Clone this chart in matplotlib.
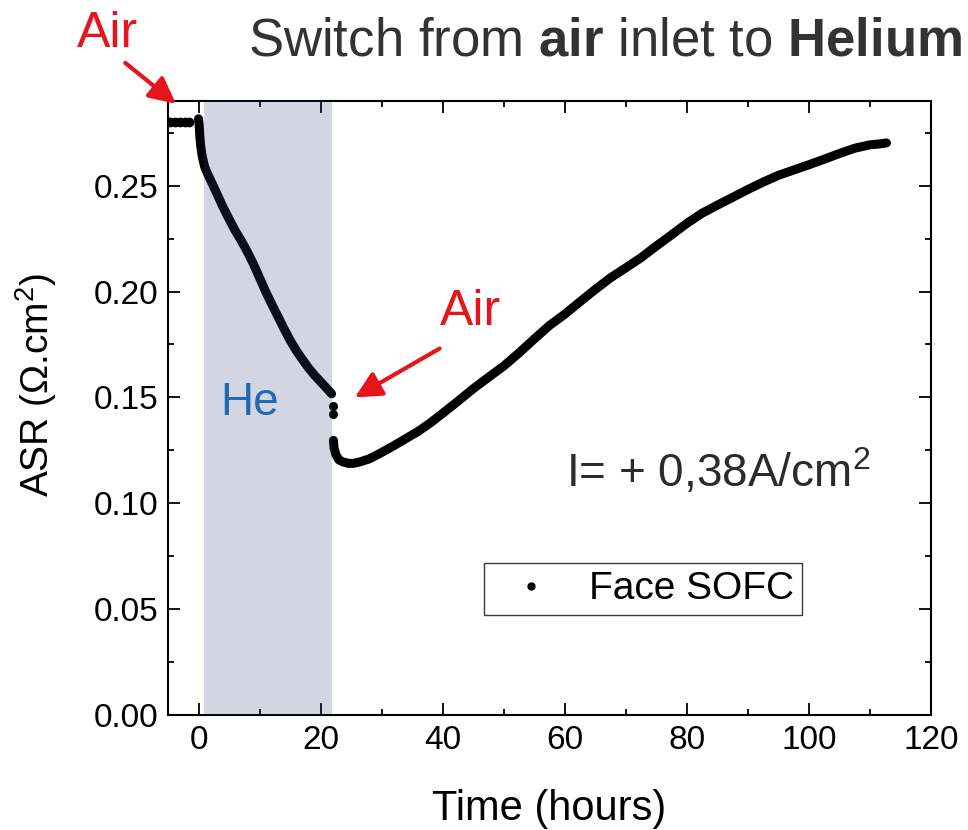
import matplotlib
matplotlib.use('Agg')
import matplotlib.pyplot as plt
from matplotlib.lines import Line2D
from matplotlib.ticker import MultipleLocator, FormatStrFormatter

plt.rcParams['font.family'] = ['Liberation Sans', 'DejaVu Sans']
plt.rcParams['mathtext.fontset'] = 'custom'
plt.rcParams['mathtext.rm'] = 'Liberation Sans'
plt.rcParams['mathtext.it'] = 'Liberation Sans:italic'
plt.rcParams['mathtext.bf'] = 'Liberation Sans:bold'
plt.rcParams['mathtext.default'] = 'regular'

# ---- data ----
pre_time = [-4.7, -3.9, -3.0, -2.2, -1.6]
pre_asr = [0.2800, 0.2800, 0.2801, 0.2802, 0.2802]

he_time = [0.0, 0.1, 0.2, 0.35, 0.6, 1.0, 1.5, 2.0, 3.0, 4.0, 5.0, 6.0, 7.0,
           8.0, 9.0, 10.0, 11.0, 12.0, 13.0, 14.0, 15.0, 16.0, 17.0, 18.0,
           19.0, 20.0, 21.0, 21.8]
he_asr = [0.2816, 0.2790, 0.2740, 0.2690, 0.2640, 0.2590, 0.2555, 0.2525,
          0.2463, 0.2400, 0.2343, 0.2288, 0.2240, 0.2188, 0.2130, 0.2065,
          0.2000, 0.1940, 0.1883, 0.1825, 0.1770, 0.1722, 0.1680, 0.1640,
          0.1605, 0.1574, 0.1543, 0.1517]

step_time = [22.0, 22.0]
step_asr = [0.1460, 0.1424]

rec_time = [22.1, 22.2, 22.5, 23.0, 23.7, 24.5, 25.3, 26.5, 28.0, 30.0,
            32.0, 34.0, 36.0, 38.0, 40.0, 42.5, 45.0, 47.5, 50.0, 52.5,
            55.0, 57.5, 60.0, 62.5, 65.0, 67.5, 70.0, 72.5, 75.0, 77.5,
            80.0, 82.5, 85.0, 87.5, 90.0, 92.5, 95.0, 97.5, 100.0, 102.5,
            105.0, 107.5, 110.0, 111.5, 112.7]
rec_asr = [0.1297, 0.1262, 0.1230, 0.1205, 0.1195, 0.1189, 0.1188, 0.1196,
           0.1210, 0.1240, 0.1272, 0.1306, 0.1340, 0.1380, 0.1425, 0.1482,
           0.1541, 0.1595, 0.1648, 0.1710, 0.1776, 0.1840, 0.1893, 0.1952,
           0.2010, 0.2065, 0.2112, 0.2160, 0.2215, 0.2268, 0.2322, 0.2370,
           0.2408, 0.2445, 0.2482, 0.2517, 0.2549, 0.2574, 0.2599, 0.2625,
           0.2652, 0.2677, 0.2693, 0.2697, 0.2702]

he_span = (0.9, 21.8)

W, H = 968, 830
fig = plt.figure(figsize=(W / 100, H / 100), dpi=100)
ax = fig.add_axes([168 / W, 1 - 715 / H, (931 - 168) / W, (715 - 101) / H])

ax.set_xlim(-5, 120)
ax.set_ylim(0, 0.29)

# data
ax.plot(he_time, he_asr, color='black', lw=6.5, solid_capstyle='round',
        solid_joinstyle='round', zorder=2)
ax.plot(rec_time, rec_asr, color='black', lw=6.5, solid_capstyle='round',
        solid_joinstyle='round', zorder=2)
ax.plot(pre_time, pre_asr, 'o', color='black', ms=6, zorder=2)
ax.plot(step_time, step_asr, 'o', color='black', ms=5.5, zorder=2)

# helium period shading (translucent, over the data)
ax.axvspan(he_span[0], he_span[1], color=(55 / 255, 64 / 255, 118 / 255),
           alpha=0.22, lw=0, zorder=3)

# axes styling
ax.xaxis.set_major_locator(MultipleLocator(20))
ax.xaxis.set_minor_locator(MultipleLocator(10))
ax.yaxis.set_major_locator(MultipleLocator(0.05))
ax.yaxis.set_minor_locator(MultipleLocator(0.025))
ax.yaxis.set_major_formatter(FormatStrFormatter('%.2f'))
ax.tick_params(which='both', direction='in', top=True, right=True,
               width=1.3, labelsize=24, colors='black')
ax.tick_params(which='major', length=8.5, pad=7)
ax.tick_params(which='minor', length=4.5)
for s in ax.spines.values():
    s.set_linewidth(1.5)

ax.set_xlabel('Time (hours)', fontsize=30)
ax.xaxis.set_label_coords(549 / W, 1 - 820 / H, transform=fig.transFigure)
ax.xaxis.label.set_va('baseline')
ax.set_ylabel('ASR ($\\Omega$.cm$^2$)', fontsize=28)
ax.yaxis.set_label_coords(36 / W, 1 - 385 / H, transform=fig.transFigure)
ax.yaxis.label.set_va('center')

# legend
handle = Line2D([], [], marker='o', color='black', linestyle='none',
                markersize=5, label='Face SOFC')
leg = ax.legend(handles=[handle], loc='lower left',
                bbox_to_anchor=((484 - 168) / 763, (715 - 615) / 614),
                borderaxespad=0, fontsize=28, frameon=True, fancybox=False,
                framealpha=1, edgecolor='#3a3a3a', handlelength=2.0,
                handletextpad=0.5, borderpad=0.2)
leg.get_frame().set_linewidth(1.0)

# annotations
red = '#e8141c'
fig.text(77 / W, 1 - 47 / H, 'Air', color=red, fontsize=36, va='baseline', ha='left')
fig.text(440 / W, 1 - 325 / H, 'Air', color=red, fontsize=36, va='baseline', ha='left')
fig.text(220 / W, 1 - 415 / H, 'He', color='#1f6ab4', fontsize=33, va='baseline', ha='left')
fig.text(566 / W, 1 - 487 / H, 'I= + 0,38A/cm$^2$', color='#2b2b2b', fontsize=33,
         va='baseline', ha='left')
fig.text(248 / W, 1 - 56 / H,
         'Switch from $\\mathbf{air}$ inlet to $\\mathbf{Helium}$',
         color='#333333', fontsize=38, va='baseline', ha='left')

ax.annotate('', xy=(-3.7, 0.2887), xytext=(-12.0, 0.308),
            arrowprops=dict(arrowstyle='-|>', color=red, lw=3,
                            mutation_scale=40, shrinkA=0, shrinkB=0),
            annotation_clip=False)
ax.annotate('', xy=(25.6, 0.150), xytext=(39.5, 0.1731),
            arrowprops=dict(arrowstyle='-|>', color=red, lw=3,
                            mutation_scale=40, shrinkA=0, shrinkB=0),
            annotation_clip=False)

fig.savefig('out.png', dpi=100)
